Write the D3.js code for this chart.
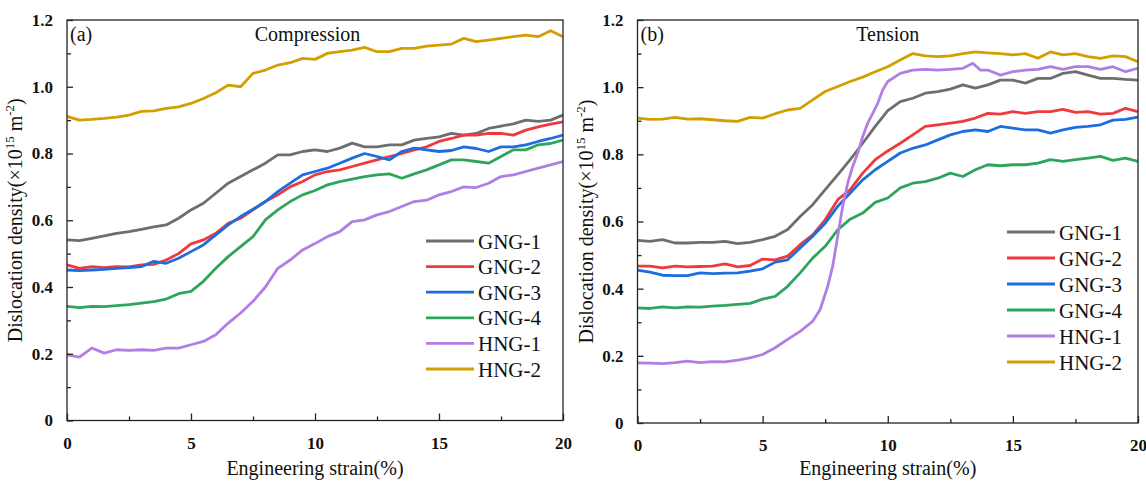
<!DOCTYPE html>
<html><head><meta charset="utf-8">
<script src="https://cdn.jsdelivr.net/npm/d3@7"></script>
<style>body{margin:0;background:#fff}svg{display:block}</style>
</head><body>
<svg id="c" width="1146" height="481"></svg>
<script>
const strain = [0,0.5,1,1.5,2,2.5,3,3.5,4,4.5,5,5.5,6,6.5,7,7.5,8,8.5,9,9.5,10,10.5,11,11.5,12,12.5,13,13.5,14,14.5,15,15.5,16,16.5,17,17.5,18,18.5,19,19.5,20];
const seriesNames = ["GNG-1","GNG-2","GNG-3","GNG-4","HNG-1","HNG-2"];
const seriesColors = ["#6e6e6e","#f0393d","#1c6de0","#2ea55c","#b07ee4","#d39f00"];
const xTicks = [0,5,10,15,20];
const yTicks = [0,0.2,0.4,0.6,0.8,1.0,1.2];
const yTickLabels = ["0","0.2","0.4","0.6","0.8","1.0","1.2"];

// Compression
const compGNG1 = [0.541,0.539,0.546,0.553,0.561,0.566,0.573,0.580,0.586,0.606,0.631,0.651,0.681,0.711,0.731,0.751,0.771,0.796,0.796,0.806,0.811,0.806,0.816,0.831,0.820,0.820,0.826,0.826,0.840,0.845,0.850,0.860,0.855,0.860,0.875,0.882,0.889,0.900,0.896,0.900,0.915];
const compGNG2 = [0.466,0.456,0.461,0.458,0.461,0.460,0.466,0.468,0.481,0.500,0.529,0.541,0.561,0.591,0.606,0.631,0.656,0.676,0.700,0.716,0.736,0.746,0.751,0.761,0.771,0.781,0.791,0.800,0.811,0.820,0.836,0.845,0.855,0.855,0.860,0.860,0.855,0.870,0.880,0.888,0.895];
const compGNG3 = [0.451,0.449,0.451,0.453,0.456,0.458,0.461,0.477,0.471,0.486,0.506,0.526,0.556,0.586,0.611,0.633,0.656,0.686,0.711,0.736,0.746,0.756,0.771,0.786,0.800,0.791,0.781,0.806,0.816,0.811,0.806,0.809,0.820,0.815,0.806,0.820,0.820,0.826,0.836,0.845,0.855];
const compGNG4 = [0.342,0.338,0.342,0.341,0.344,0.347,0.352,0.356,0.364,0.380,0.387,0.417,0.456,0.491,0.521,0.551,0.601,0.631,0.656,0.676,0.689,0.706,0.716,0.723,0.731,0.736,0.739,0.726,0.739,0.751,0.766,0.781,0.781,0.776,0.771,0.791,0.811,0.811,0.826,0.830,0.840];
const compHNG1 = [0.197,0.190,0.217,0.202,0.212,0.210,0.212,0.210,0.217,0.217,0.227,0.237,0.257,0.292,0.322,0.357,0.400,0.456,0.481,0.511,0.530,0.551,0.566,0.596,0.601,0.616,0.626,0.641,0.656,0.660,0.676,0.686,0.700,0.698,0.711,0.731,0.736,0.746,0.756,0.766,0.776];
const compHNG2 = [0.911,0.900,0.902,0.905,0.909,0.915,0.926,0.928,0.935,0.940,0.950,0.965,0.982,1.005,1.000,1.040,1.050,1.065,1.072,1.085,1.082,1.100,1.105,1.110,1.118,1.105,1.105,1.115,1.115,1.122,1.125,1.128,1.145,1.135,1.140,1.145,1.150,1.155,1.150,1.168,1.150];

// Tension
const tensGNG1 = [0.544,0.541,0.546,0.536,0.536,0.538,0.538,0.541,0.534,0.538,0.546,0.556,0.576,0.615,0.650,0.695,0.739,0.784,0.833,0.883,0.930,0.957,0.967,0.982,0.987,0.994,1.007,0.997,1.007,1.021,1.021,1.012,1.026,1.026,1.041,1.046,1.036,1.026,1.026,1.023,1.021];
const tensGNG2 = [0.467,0.467,0.462,0.467,0.465,0.466,0.467,0.474,0.465,0.469,0.488,0.486,0.497,0.531,0.560,0.605,0.665,0.695,0.744,0.784,0.810,0.833,0.858,0.883,0.888,0.893,0.898,0.908,0.922,0.920,0.927,0.922,0.927,0.927,0.934,0.925,0.927,0.920,0.922,0.937,0.927];
const tensGNG3 = [0.455,0.449,0.440,0.439,0.439,0.447,0.445,0.446,0.447,0.452,0.459,0.479,0.486,0.521,0.556,0.595,0.645,0.685,0.724,0.754,0.779,0.804,0.818,0.828,0.843,0.858,0.868,0.873,0.868,0.883,0.878,0.873,0.873,0.863,0.873,0.880,0.883,0.888,0.902,0.904,0.911];
const tensGNG4 = [0.343,0.341,0.346,0.343,0.346,0.345,0.348,0.350,0.353,0.356,0.369,0.377,0.407,0.447,0.491,0.526,0.575,0.607,0.625,0.657,0.670,0.700,0.714,0.719,0.729,0.744,0.734,0.754,0.769,0.766,0.769,0.769,0.774,0.784,0.779,0.784,0.789,0.794,0.782,0.789,0.779];
const strainTensHNG1 = [0,0.5,1,1.5,2,2.5,3,3.5,4,4.5,5,5.5,6,6.5,7,7.3,7.6,7.8,8,8.2,8.4,8.6,8.8,9,9.2,9.4,9.6,9.8,10,10.5,11,11.5,12,12.5,13,13.4,13.7,14,14.5,15,15.5,16,16.5,17,17.5,18,18.5,19,19.5,20];
const tensHNG1 = [0.179,0.178,0.177,0.180,0.184,0.180,0.183,0.182,0.187,0.194,0.204,0.224,0.249,0.273,0.303,0.338,0.407,0.467,0.556,0.645,0.714,0.764,0.804,0.853,0.893,0.922,0.952,0.992,1.017,1.041,1.051,1.053,1.051,1.053,1.056,1.071,1.051,1.051,1.036,1.046,1.051,1.053,1.061,1.053,1.061,1.061,1.053,1.061,1.046,1.056];
const tensHNG2 = [0.908,0.904,0.905,0.910,0.905,0.906,0.903,0.900,0.898,0.910,0.908,0.921,0.932,0.937,0.962,0.987,1.002,1.017,1.030,1.046,1.061,1.081,1.100,1.093,1.091,1.093,1.100,1.105,1.102,1.100,1.096,1.100,1.086,1.105,1.096,1.100,1.091,1.086,1.093,1.091,1.076];

const panels = [
  {left:67, right:563, top:20, bottom:420.5, tag:"(a)", title:"Compression", titleX:9.7,
   legX:426, legY:241, legGap:25.6,
   series:[[strain,compGNG1],[strain,compGNG2],[strain,compGNG3],[strain,compGNG4],[strain,compHNG1],[strain,compHNG2]]},
  {left:637.5, right:1138, top:20, bottom:423, tag:"(b)", title:"Tension", titleX:10,
   legX:1007, legY:232, legGap:26,
   series:[[strain,tensGNG1],[strain,tensGNG2],[strain,tensGNG3],[strain,tensGNG4],[strainTensHNG1,tensHNG1],[strain,tensHNG2]]}
];

const svg = d3.select("#c");
const serif = "'Liberation Serif','Times New Roman',serif";

panels.forEach(p => {
  const x = d3.scaleLinear().domain([0,20]).range([p.left,p.right]);
  const y = d3.scaleLinear().domain([0,1.2]).range([p.bottom,p.top]);
  const g = svg.append("g");

  const clipId = "clip" + p.tag.replace(/\W/g,"");
  svg.append("clipPath").attr("id",clipId).append("rect")
    .attr("x",p.left).attr("y",p.top).attr("width",p.right-p.left).attr("height",p.bottom-p.top);
  const line = d3.line().x(d=>x(d[0])).y(d=>y(d[1]));
  p.series.forEach((s,i) => {
    const pts = s[0].map((v,k)=>[v, s[1][k]]);
    g.append("path").attr("d", line(pts)).attr("fill","none")
      .attr("stroke", seriesColors[i]).attr("stroke-width",2.8)
      .attr("stroke-linejoin","round").attr("clip-path",`url(#${clipId})`);
  });

  g.append("rect").attr("x",p.left).attr("y",p.top).attr("width",p.right-p.left).attr("height",p.bottom-p.top)
    .attr("fill","none").attr("stroke","#222").attr("stroke-width",1.3);

  const xAxis = d3.axisBottom(x).tickValues(xTicks).tickSize(-7).tickPadding(16).tickFormat(d3.format("d"));
  const xa = g.append("g").attr("transform",`translate(0,${p.bottom})`).call(xAxis);
  const xMinor = d3.axisBottom(x).tickValues([2.5,7.5,12.5,17.5]).tickSize(-4).tickFormat("");
  const xm = g.append("g").attr("transform",`translate(0,${p.bottom})`).call(xMinor);
  const yAxis = d3.axisLeft(y).tickValues(yTicks).tickSize(-6).tickPadding(14).tickFormat((d,i)=>yTickLabels[i]);
  const ya = g.append("g").attr("transform",`translate(${p.left},0)`).call(yAxis);
  const yMinor = d3.axisLeft(y).tickValues([0.1,0.3,0.5,0.7,0.9,1.1]).tickSize(-4).tickFormat("");
  const ym = g.append("g").attr("transform",`translate(${p.left},0)`).call(yMinor);
  [xa,xm,ya,ym].forEach(a=>{
    a.select(".domain").remove();
    a.selectAll(".tick line").attr("stroke","#222").attr("stroke-width",1.3);
    a.selectAll("text").attr("font-family",serif).attr("font-size",17).attr("font-weight","bold").attr("fill","#111");
  });

  g.append("text").attr("x",p.left+3).attr("y",p.top+21).text(p.tag)
    .attr("font-family",serif).attr("font-size",20).attr("fill","#111");
  g.append("text").attr("x",x(p.titleX)).attr("y",p.top+21).attr("text-anchor","middle").text(p.title)
    .attr("font-family",serif).attr("font-size",20).attr("fill","#111");
  g.append("text").attr("x",(p.left+p.right)/2).attr("y",475).attr("text-anchor","middle")
    .text("Engineering strain(%)").attr("font-family",serif).attr("font-size",20).attr("fill","#111");
  const yl = g.append("text").attr("transform",`translate(${p.left-45},${(p.top+p.bottom)/2}) rotate(-90)`)
    .attr("text-anchor","middle").attr("font-family",serif).attr("font-size",20).attr("fill","#111");
  yl.append("tspan").text("Dislocation density(×10");
  yl.append("tspan").text("15").attr("font-size",13).attr("dy",-8);
  yl.append("tspan").text(" m").attr("font-size",20).attr("dy",8);
  yl.append("tspan").text("-2").attr("font-size",13).attr("dy",-8);
  yl.append("tspan").text(")").attr("font-size",20).attr("dy",8);

  seriesNames.forEach((n,i)=>{
    const ly = p.legY + i*p.legGap;
    g.append("line").attr("x1",p.legX).attr("x2",p.legX+48).attr("y1",ly).attr("y2",ly)
      .attr("stroke",seriesColors[i]).attr("stroke-width",2.8);
    g.append("text").attr("x",p.legX+52).attr("y",ly+7.5).text(n)
      .attr("font-family",serif).attr("font-size",21).attr("fill","#111");
  });
});
</script>
</body></html>
